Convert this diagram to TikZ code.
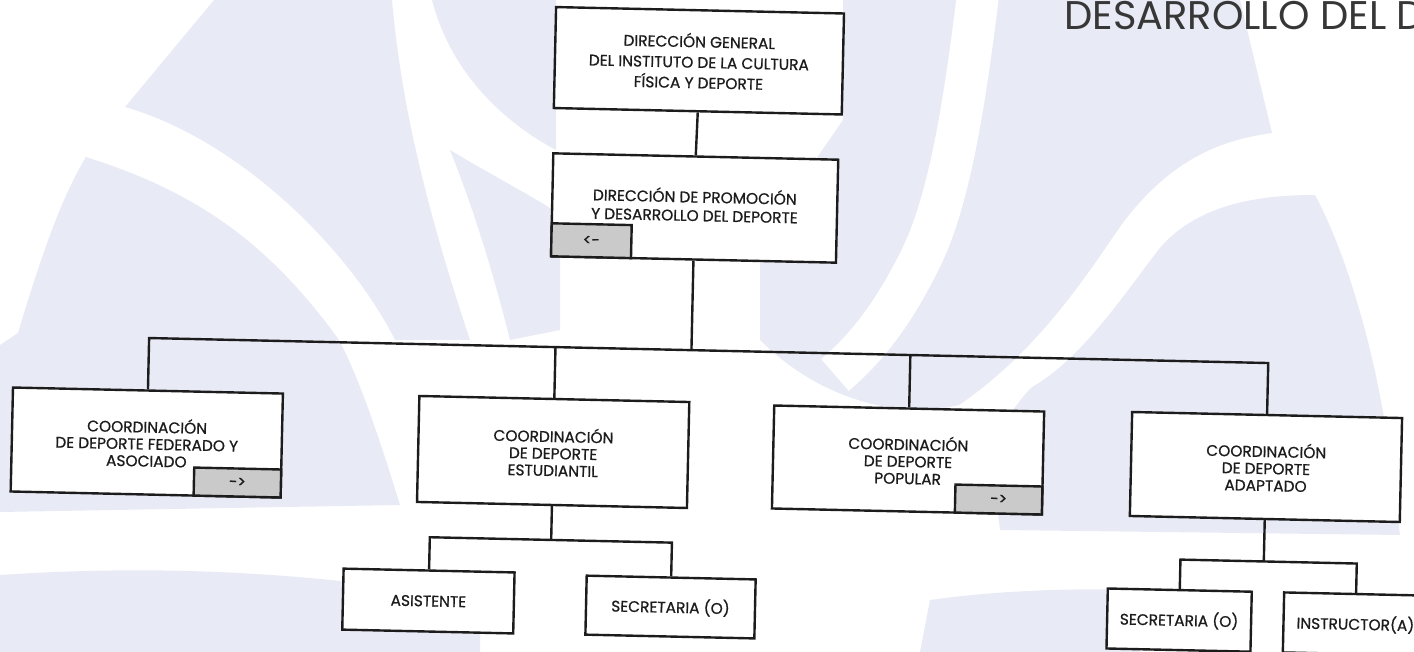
\documentclass[tikz,border=0pt]{standalone}
\usepackage{fontspec}
\setmainfont{Poppins}
\newfontfamily\boxfont{Poppins}[FakeBold=0.8]
\definecolor{lav}{RGB}{232,235,246}
\definecolor{ink}{RGB}{28,28,28}
\definecolor{tabgray}{RGB}{202,202,202}
\definecolor{titlegray}{RGB}{55,55,55}
\tikzset{
  orgbox/.style={draw=ink, line width=2.4pt, fill=white, rectangle, inner sep=0pt,
    align=center, text=ink, font=\boxfont\fontsize{15.4}{17}\selectfont},
  tabbox/.style={draw=ink, line width=2.4pt, fill=tabgray, rectangle, inner sep=0pt,
    minimum width=87pt, minimum height=28pt, text=ink, font=\boxfont\fontsize{15.4}{17}\selectfont},
  boxtext/.style={inner sep=0pt, align=center, text=ink, font=\boxfont\fontsize{15.4}{18.5}\selectfont},
  conn/.style={draw=ink, line width=2.4pt},
  wm/.style={fill=lav},
}
\begin{document}
\begin{tikzpicture}[x=1pt,y=-1pt]
\useasboundingbox (0,0) rectangle (1414,652);
% faint watermark
\begin{scope}
\clip (0,0) rectangle (1414,652);
\fill[wm] (214,0) -- (392,0) .. controls (400,90) and (420,190) .. (470,340) -- (395,340) .. controls (350,250) and (240,140) .. (125,107) -- cycle;
\fill[wm] (432,0) -- (556,0) -- (556,150) .. controls (500,120) and (450,70) .. (432,0) -- cycle;
\fill[wm] (450,150) .. controls (500,180) and (540,200) .. (560,215) -- (560,330) -- (510,340) .. controls (490,260) and (470,200) .. (450,150) -- cycle;
\fill[wm] (86,157) .. controls (180,187) and (260,230) .. (339,340) .. controls (360,380) and (380,440) .. (400,505) -- (0,512) -- (0,345) -- (18,333) .. controls (40,260) and (60,200) .. (86,157) -- cycle;
\fill[wm] (0,575) .. controls (150,565) and (300,570) .. (480,600) -- (480,652) -- (0,652) -- cycle;
\fill[wm] (800,0) -- (1240,0) -- (1272,133) .. controls (1220,140) and (1170,160) .. (1122,224) .. controls (1090,270) and (1040,350) .. (959,405) .. controls (900,420) and (820,400) .. (760,340) -- (760,240) -- (843,120) -- (843,0) -- cycle;
\fill[wm] (1315,195) .. controls (1270,195) and (1200,200) .. (1159,249) .. controls (1120,300) and (1080,360) .. (1032,387) .. controls (1000,420) and (990,450) .. (1000,530) -- (1400,535) -- (1385,424) .. controls (1375,360) and (1350,260) .. (1315,195) -- cycle;
\fill[wm] (930,600) .. controls (1000,590) and (1080,588) .. (1140,590) -- (1140,652) -- (920,652) -- cycle;
\draw[white, line width=42pt] (978,-5) .. controls (965,100) and (950,200) .. (920,260) .. controls (895,310) and (870,345) .. (835,375);
\end{scope}
% title fragment (cut at the right edge, as in the scan)
\node[anchor=base west, inner sep=0pt, text=titlegray, font=\fontsize{40}{40}\selectfont] (title) at (1064,30) {DESARROLLO DEL D};
% chart (scan is slightly rotated)
\begin{scope}[rotate around={-1.28:(707,326)}, transform shape]
\node[orgbox, minimum width=288pt, minimum height=101pt, font=\boxfont\fontsize{15.4}{20.5}\selectfont] (b1) at (693,61)
  {DIRECCIÓN GENERAL\\DEL INSTITUTO DE LA CULTURA\\FÍSICA Y DEPORTE};
\node[orgbox, minimum width=285pt, minimum height=103pt] (b2) at (692,208.3) {};
\node[boxtext] (b2t) at (692,205) {DIRECCIÓN DE PROMOCIÓN\\Y DESARROLLO DEL DEPORTE};
\node[tabbox, minimum width=80pt, minimum height=33pt, anchor=south west] (t2) at (b2.south west) {<-};
\node[orgbox, minimum width=270pt, minimum height=104pt] (c1) at (149.5,455)
  {COORDINACIÓN\\DE DEPORTE FEDERADO Y\\ASOCIADO};
\node[orgbox, minimum width=270pt, minimum height=106pt] (c2) at (556,455.4)
  {COORDINACIÓN\\DE DEPORTE\\ESTUDIANTIL};
\node[orgbox, minimum width=270pt, minimum height=103pt] (c3) at (911,455.5)
  {COORDINACIÓN\\DE DEPORTE\\POPULAR};
\node[orgbox, minimum width=270pt, minimum height=104pt] (c4) at (1269,454.5)
  {COORDINACIÓN\\DE DEPORTE\\ADAPTADO};
\node[tabbox, anchor=south east] (t1) at (c1.south east) {->};
\node[tabbox, anchor=south east] (t3) at (c3.south east) {->};
\node[orgbox, minimum width=171pt, minimum height=61pt] (s1) at (434.6,607.2) {ASISTENTE};
\node[orgbox, minimum width=169pt, minimum height=59pt] (s2) at (676.8,607.8) {SECRETARIA (O)};
\node[orgbox, minimum width=144pt, minimum height=60pt] (s3) at (1185.6,609.5) {SECRETARIA (O)};
\node[orgbox, minimum width=144pt, minimum height=60pt] (s4) at (1362,609.5) {INSTRUCTOR(A)};
\coordinate (bus) at (692,350.5);
\coordinate (sb1) at (556,543.4);
\coordinate (sb2) at (1269,549);
\draw[conn] (b1.south) -- (b2.north);
\draw[conn] (b2.south) -- (b2.south |- bus);
\draw[conn] (c1.north) -- (c1.north |- bus) -- (c4.north |- bus) -- (c4.north);
\draw[conn] (c2.north) -- (c2.north |- bus);
\draw[conn] (c3.north) -- (c3.north |- bus);
\draw[conn] (c2.south) -- (c2.south |- sb1);
\draw[conn] (s1.north) -- (s1.north |- sb1) -- (s2.north |- sb1) -- (s2.north);
\draw[conn] (c4.south) -- (c4.south |- sb2);
\draw[conn] (s3.north) -- (s3.north |- sb2) -- (s4.north |- sb2) -- (s4.north);
\end{scope}
\end{tikzpicture}
\end{document}
